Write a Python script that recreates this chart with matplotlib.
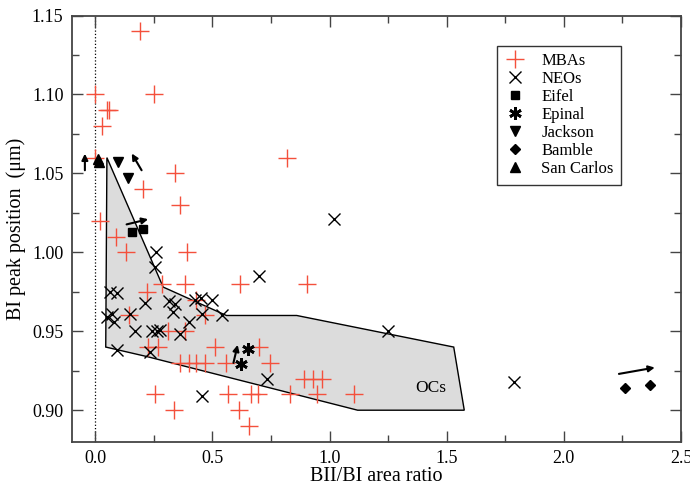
import matplotlib
matplotlib.use('Agg')
import matplotlib.pyplot as plt
from matplotlib.patches import Polygon
from matplotlib.ticker import MultipleLocator

plt.rcParams['font.family'] = ['Liberation Serif', 'DejaVu Serif']
plt.rcParams['mathtext.fontset'] = 'stix'

# MBAs (red plus)
mba_x = [0.19, 0.00, 0.25, 0.05, 0.06, 0.03, 0.00, 0.82, 0.34, 0.205, 0.36, 0.02, 0.09,
         0.13, 0.39, 0.285, 0.385, 0.62, 0.905, 0.22, 0.43, 0.145, 0.47, 0.31, 0.385,
         0.225, 0.27, 0.51, 0.70, 0.36, 0.40, 0.43, 0.47, 0.56, 0.745, 0.89, 0.93, 0.97,
         0.255, 0.565, 0.665, 0.695, 0.83, 0.945, 1.105, 0.335, 0.615, 0.655]
mba_y = [1.14, 1.10, 1.10, 1.09, 1.09, 1.08, 1.06, 1.06, 1.05, 1.04, 1.03, 1.02, 1.01,
         1.00, 1.00, 0.98, 0.98, 0.98, 0.98, 0.975, 0.97, 0.96, 0.96, 0.95, 0.95,
         0.94, 0.94, 0.94, 0.94, 0.93, 0.93, 0.93, 0.93, 0.93, 0.93, 0.92, 0.92, 0.92,
         0.91, 0.91, 0.91, 0.91, 0.91, 0.91, 0.91, 0.90, 0.90, 0.89]

# NEOs (black x)
neo_x = [0.26, 0.255, 0.70, 0.063, 0.093, 0.212, 0.315, 0.34, 0.333, 0.425, 0.45, 0.50,
         0.54, 0.455, 0.049, 0.07, 0.08, 0.148, 0.40, 0.172, 0.241, 0.262, 0.276, 0.362,
         0.093, 0.232, 0.733, 0.455, 1.017, 1.25, 1.786]
neo_y = [1.00, 0.991, 0.985, 0.975, 0.974, 0.968, 0.969, 0.967, 0.962, 0.97, 0.971, 0.97,
         0.96, 0.961, 0.959, 0.961, 0.956, 0.961, 0.956, 0.95, 0.95, 0.95, 0.951, 0.948,
         0.938, 0.937, 0.92, 0.909, 1.021, 0.95, 0.918]

# meteorites
eifel_x, eifel_y = [0.158, 0.205], [1.013, 1.015]
epinal_x, epinal_y = [0.65, 0.621], [0.939, 0.929]
jackson_x, jackson_y = [0.098, 0.138], [1.057, 1.047]
bamble_x, bamble_y = [2.259, 2.366], [0.914, 0.916]
sancarlos_x, sancarlos_y = [0.01, 0.018], [1.059, 1.057]

# arrows: (x_start, y_start, x_end, y_end)
arrows = [(0.134, 1.0177, 0.226, 1.021),
          (0.198, 1.052, 0.156, 1.0626),
          (-0.044, 1.052, -0.044, 1.0625),
          (0.59, 0.930, 0.608, 0.9414),
          (2.235, 0.923, 2.388, 0.927)]

# OC region outline
oc_x = [0.05, 0.29, 0.56, 0.86, 1.53, 1.575, 1.12, 0.22, 0.045]
oc_y = [1.06, 0.978, 0.96, 0.96, 0.94, 0.90, 0.90, 0.934, 0.94]

fig = plt.figure(figsize=(6.9, 4.86), dpi=100)
ax = fig.add_axes([0.104, 0.091, 0.883, 0.877])

ax.add_patch(Polygon(list(zip(oc_x, oc_y)), closed=True, facecolor='#dcdcdc',
                     edgecolor='black', lw=1.0, zorder=1))
ax.axvline(0, ls=':', color='black', lw=0.9, zorder=1)
ax.text(1.43, 0.914, 'OCs', fontsize=12.5, ha='center', va='center', zorder=2)

ax.plot(mba_x, mba_y, ls='none', marker='+', ms=12.5, mew=1.0, color='#f4503c',
        label='MBAs', zorder=3)
ax.plot(neo_x, neo_y, ls='none', marker='x', ms=9, mew=1.0, color='black',
        label='NEOs', zorder=3)
ax.plot(eifel_x, eifel_y, ls='none', marker='s', ms=6, color='black', label='Eifel', zorder=4)
ax.plot(epinal_x, epinal_y, ls='none', marker=(6, 2, 0), ms=9, mew=2.0, color='black',
        label='Epinal', zorder=4)
ax.plot(jackson_x, jackson_y, ls='none', marker='v', ms=7, color='black', label='Jackson', zorder=4)
ax.plot(bamble_x, bamble_y, ls='none', marker='D', ms=5.5, color='black', label='Bamble', zorder=4)
ax.plot(sancarlos_x, sancarlos_y, ls='none', marker='^', ms=7, color='black',
        label='San Carlos', zorder=4)

for x0, y0, x1, y1 in arrows:
    ax.annotate('', xy=(x1, y1), xytext=(x0, y0),
                arrowprops=dict(arrowstyle='-|>', color='black', lw=1.5,
                                mutation_scale=9, shrinkA=0, shrinkB=0), zorder=5)

ax.set_xlim(-0.1, 2.5)
ax.set_ylim(0.88, 1.15)
ax.xaxis.set_major_locator(MultipleLocator(0.5))
ax.xaxis.set_minor_locator(MultipleLocator(0.25))
ax.yaxis.set_major_locator(MultipleLocator(0.05))
ax.yaxis.set_minor_locator(MultipleLocator(0.025))
ax.xaxis.set_major_formatter(matplotlib.ticker.FormatStrFormatter('%.1f'))
ax.yaxis.set_major_formatter(matplotlib.ticker.FormatStrFormatter('%.2f'))
ax.tick_params(which='both', direction='in', top=True, right=True, labelsize=13,
               color='#444444', width=1.0)
ax.tick_params(which='major', length=8, pad=6)
ax.tick_params(which='minor', length=5)
for s in ax.spines.values():
    s.set_linewidth(1.3)
    s.set_color('#444444')

ax.set_xlabel('BII/BI area ratio', fontsize=14.5, labelpad=0)
ax.set_ylabel('BI peak position  (μm)', fontsize=14.5, labelpad=4)

leg = ax.legend(loc='upper left', bbox_to_anchor=(0.698, 0.929), fontsize=12,
                frameon=True, fancybox=False, edgecolor='#333333', framealpha=1,
                handlelength=1.3, handletextpad=0.9, labelspacing=0.12,
                borderpad=0.45, borderaxespad=0, numpoints=1)
leg.get_frame().set_linewidth(1.0)

fig.savefig('out.png', dpi=100)
